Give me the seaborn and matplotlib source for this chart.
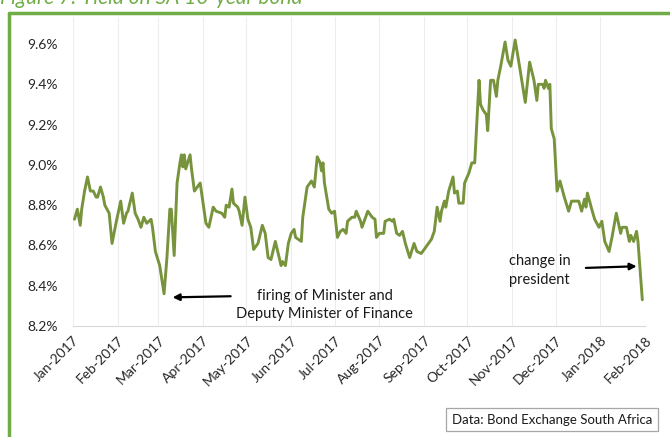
import pandas as pd
import matplotlib.pyplot as plt
import matplotlib.dates as mdates
import seaborn as sns

# Yield on SA 10-year bond
dates = [
    "2017-01-02", "2017-01-04", "2017-01-06", "2017-01-07", "2017-01-09", "2017-01-11",
    "2017-01-13", "2017-01-15", "2017-01-17", "2017-01-18", "2017-01-20", "2017-01-22",
    "2017-01-23", "2017-01-26", "2017-01-28", "2017-01-31", "2017-02-03", "2017-02-05",
    "2017-02-07", "2017-02-08", "2017-02-11", "2017-02-13", "2017-02-15", "2017-02-17",
    "2017-02-19", "2017-02-21", "2017-02-24", "2017-02-25", "2017-02-27", "2017-03-02",
    "2017-03-05", "2017-03-07", "2017-03-09", "2017-03-10", "2017-03-12", "2017-03-14",
    "2017-03-16", "2017-03-17", "2017-03-18", "2017-03-19", "2017-03-20", "2017-03-23",
    "2017-03-24", "2017-03-26", "2017-03-28", "2017-03-30", "2017-04-01", "2017-04-03",
    "2017-04-05", "2017-04-08", "2017-04-10", "2017-04-14", "2017-04-16", "2017-04-17",
    "2017-04-19", "2017-04-21", "2017-04-22", "2017-04-25", "2017-04-26", "2017-04-28",
    "2017-04-30", "2017-05-02", "2017-05-04", "2017-05-06", "2017-05-09", "2017-05-12",
    "2017-05-14", "2017-05-16", "2017-05-18", "2017-05-21", "2017-05-23", "2017-05-25",
    "2017-05-26", "2017-05-28", "2017-05-30", "2017-06-01", "2017-06-03", "2017-06-04",
    "2017-06-06", "2017-06-08", "2017-06-09", "2017-06-12", "2017-06-14", "2017-06-15",
    "2017-06-17", "2017-06-19", "2017-06-21", "2017-06-22", "2017-06-23", "2017-06-24",
    "2017-06-27", "2017-06-29", "2017-07-01", "2017-07-03", "2017-07-05", "2017-07-07",
    "2017-07-09", "2017-07-10", "2017-07-13", "2017-07-15", "2017-07-16", "2017-07-19",
    "2017-07-20", "2017-07-22", "2017-07-24", "2017-07-27", "2017-07-29", "2017-07-30",
    "2017-08-01", "2017-08-04", "2017-08-05", "2017-08-08", "2017-08-10", "2017-08-11",
    "2017-08-13", "2017-08-15", "2017-08-17", "2017-08-19", "2017-08-22", "2017-08-25",
    "2017-08-27", "2017-08-30", "2017-09-01", "2017-09-03", "2017-09-06", "2017-09-08",
    "2017-09-10", "2017-09-12", "2017-09-13", "2017-09-15", "2017-09-16", "2017-09-18",
    "2017-09-21", "2017-09-22", "2017-09-24", "2017-09-25", "2017-09-28", "2017-09-29",
    "2017-10-02", "2017-10-04", "2017-10-06", "2017-10-09", "2017-10-10", "2017-10-12",
    "2017-10-14", "2017-10-15", "2017-10-17", "2017-10-19", "2017-10-21", "2017-10-22",
    "2017-10-24", "2017-10-27", "2017-10-29", "2017-10-31", "2017-11-03", "2017-11-06",
    "2017-11-10", "2017-11-13", "2017-11-16", "2017-11-18", "2017-11-19", "2017-11-22",
    "2017-11-23", "2017-11-24", "2017-11-26", "2017-11-27", "2017-11-28", "2017-11-30",
    "2017-12-02", "2017-12-04", "2017-12-07", "2017-12-10", "2017-12-12", "2017-12-15",
    "2017-12-17", "2017-12-19", "2017-12-21", "2017-12-22", "2017-12-23", "2017-12-26",
    "2017-12-28", "2017-12-31", "2018-01-02", "2018-01-04", "2018-01-07", "2018-01-09",
    "2018-01-12", "2018-01-15", "2018-01-16", "2018-01-19", "2018-01-21", "2018-01-22",
    "2018-01-24", "2018-01-26", "2018-01-27", "2018-01-30",
]
yields = [
    8.73, 8.78, 8.70, 8.78, 8.87, 8.94,
    8.87, 8.87, 8.84, 8.84, 8.89, 8.84,
    8.80, 8.76, 8.61, 8.72, 8.82, 8.71,
    8.76, 8.77, 8.86, 8.76, 8.73, 8.69,
    8.74, 8.71, 8.73, 8.69, 8.57, 8.50,
    8.36, 8.54, 8.78, 8.78, 8.55, 8.91,
    9.01, 9.05, 8.99, 9.05, 8.98, 9.05,
    8.98, 8.87, 8.89, 8.91, 8.81, 8.71,
    8.69, 8.79, 8.77, 8.76, 8.74, 8.80,
    8.79, 8.88, 8.81, 8.79, 8.77, 8.70,
    8.84, 8.73, 8.69, 8.58, 8.61, 8.70,
    8.66, 8.54, 8.53, 8.62, 8.56, 8.50,
    8.52, 8.50, 8.61, 8.66, 8.68, 8.64,
    8.63, 8.62, 8.74, 8.89, 8.91, 8.92,
    8.89, 9.04, 9.01, 8.97, 9.01, 8.91,
    8.78, 8.76, 8.77, 8.64, 8.67, 8.68,
    8.66, 8.72, 8.74, 8.74, 8.77, 8.72,
    8.69, 8.73, 8.77, 8.74, 8.73, 8.64,
    8.66, 8.66, 8.72, 8.73, 8.72, 8.73,
    8.66, 8.65, 8.67, 8.61, 8.54, 8.61,
    8.57, 8.56, 8.58, 8.60, 8.63, 8.67,
    8.79, 8.72, 8.77, 8.82, 8.79, 8.87,
    8.94, 8.86, 8.87, 8.81, 8.81, 8.91,
    8.96, 9.01, 9.01, 9.42, 9.30, 9.27,
    9.25, 9.17, 9.42, 9.42, 9.34, 9.42,
    9.49, 9.61, 9.52, 9.49, 9.62, 9.49,
    9.31, 9.51, 9.42, 9.32, 9.40, 9.40,
    9.38, 9.42, 9.38, 9.40, 9.18, 9.13,
    8.87, 8.92, 8.84, 8.77, 8.82, 8.82,
    8.82, 8.77, 8.83, 8.79, 8.86, 8.78,
    8.73, 8.69, 8.72, 8.62, 8.57, 8.64,
    8.76, 8.66, 8.69, 8.69, 8.62, 8.65,
    8.62, 8.67, 8.62, 8.33,
]
y_ticks = [8.2, 8.4, 8.6, 8.8, 9.0, 9.2, 9.4, 9.6]

df = pd.DataFrame({"date": pd.to_datetime(dates), "yield": yields})

sns.set_style("white")
plt.rcParams["font.family"] = ["Lato", "DejaVu Sans"]

fig = plt.figure(figsize=(6.7, 4.37), dpi=100)
ax = fig.add_axes([0.109, 0.254, 0.854, 0.707])

sns.lineplot(data=df, x="date", y="yield", ax=ax, color="#77933C", linewidth=2.1)

ax.set_xlim(pd.Timestamp("2017-01-01"), pd.Timestamp("2018-02-01"))
ax.set_ylim(8.2, 9.734)
ax.set_yticks(y_ticks)
ax.set_yticklabels([f"{v:.1f}%" for v in y_ticks], fontsize=10, color="#262626")
ax.xaxis.set_major_locator(mdates.MonthLocator())
ax.xaxis.set_major_formatter(mdates.DateFormatter("%b-%Y"))
plt.setp(ax.get_xticklabels(), rotation=45, ha="right", rotation_mode="anchor",
         fontsize=10, color="#262626")
ax.tick_params(axis="x", length=0, pad=6)
ax.tick_params(axis="y", length=0, pad=11)
ax.grid(axis="x", color="#EDEDED", linewidth=0.8)
ax.set_xlabel("")
ax.set_ylabel("")
for side in ["top", "right", "left"]:
    ax.spines[side].set_visible(False)
ax.spines["bottom"].set_color("#D9D9D9")

# annotations
ax.annotate("", xy=(pd.Timestamp("2017-03-09"), 8.342), xytext=(pd.Timestamp("2017-04-22"), 8.348),
            arrowprops=dict(arrowstyle="-|>", color="black", lw=1.6, mutation_scale=10))
ax.text(pd.Timestamp("2017-06-24"), 8.305, "firing of Minister and\nDeputy Minister of Finance",
        ha="center", va="center", fontsize=10.5, linespacing=1.4, color="#1a1a1a")
ax.annotate("", xy=(pd.Timestamp("2018-01-28"), 8.497), xytext=(pd.Timestamp("2017-12-20"), 8.488),
            arrowprops=dict(arrowstyle="-|>", color="black", lw=1.6, mutation_scale=10))
ax.text(pd.Timestamp("2017-11-20"), 8.475, "change in\npresident",
        ha="center", va="center", fontsize=10.5, linespacing=1.4, color="#1a1a1a")

# source box
fig.text(0.973, 0.04, "Data: Bond Exchange South Africa", ha="right", va="center",
         fontsize=9.5, color="#1a1a1a",
         bbox=dict(boxstyle="square,pad=0.45", facecolor="white", edgecolor="#A6A6A6", lw=0.9))

# green frame and title
fig.add_artist(plt.Line2D([0.014, 1.0], [0.971, 0.971], color="#70AD47", lw=2.5))
fig.add_artist(plt.Line2D([0.014, 0.014], [0.0, 0.971], color="#70AD47", lw=2.5))
fig.text(0.0, 1.005, "Figure 7: Yield on SA 10-year bond", ha="left", va="center",
         fontsize=15, style="italic", color="#70AD47")

fig.savefig("out.png", dpi=100)
